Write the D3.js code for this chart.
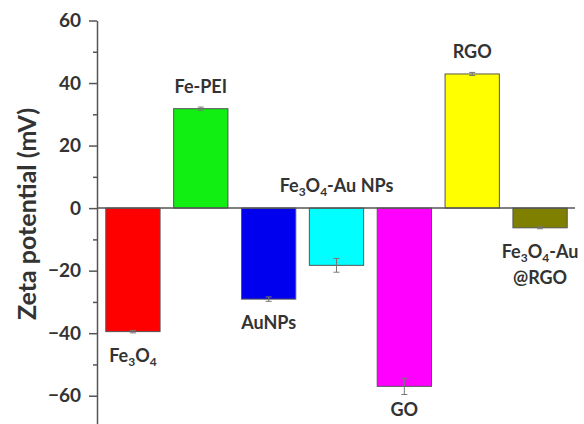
<!DOCTYPE html>
<html>
<head>
<meta charset="utf-8">
<script src="https://cdn.jsdelivr.net/npm/d3@7"></script>
<style>
html,body{margin:0;padding:0;background:#fff;}
svg{display:block;}
text{font-family:Lato,"Open Sans",sans-serif;font-weight:bold;fill:#333;}
</style>
</head>
<body>
<div id="chart"></div>
<script>
const categories = ["Fe3O4","Fe-PEI","AuNPs","Fe3O4-Au NPs","GO","RGO","Fe3O4-Au@RGO"];
const values = [-39.5, 31.8, -29.1, -18.3, -57.0, 42.9, -6.3];
const errors = [0.4, 0.5, 0.7, 2.2, 2.6, 0.5, 0.3];
const colors = ["#ff0000","#11ee11","#0000ee","#00ffff","#ff00ff","#ffff00","#808000"];
const yTicks = [-60,-40,-20,0,20,40,60];
const yMinorTicks = [-50,-30,-10,10,30,50];
const yTitle = "Zeta potential (mV)";

const W = 584, H = 424;
const svg = d3.select("#chart").append("svg").attr("width", W).attr("height", H);

const axisX = 97;
const y = d3.scaleLinear().domain([-70, 60]).range([427, 20.5]);
const x = d3.scaleBand().domain(categories).range([99, 574]).paddingInner(0.2).paddingOuter(0.1);

// bars
svg.selectAll("rect.bar").data(categories).enter().append("rect")
  .attr("class","bar")
  .attr("x", d => x(d))
  .attr("width", x.bandwidth())
  .attr("y", (d,i) => y(Math.max(0, values[i])))
  .attr("height", (d,i) => Math.abs(y(values[i]) - y(0)))
  .attr("fill", (d,i) => colors[i])
  .attr("stroke", "#555")
  .attr("stroke-width", 1);

// error bars
const eg = svg.append("g").attr("stroke","#777").attr("stroke-width",1);
categories.forEach((c,i) => {
  const cx = x(c) + x.bandwidth()/2;
  const v = values[i], e = errors[i];
  eg.append("line").attr("x1",cx).attr("x2",cx).attr("y1",y(v-e)).attr("y2",y(v+e));
  eg.append("line").attr("x1",cx-3).attr("x2",cx+3).attr("y1",y(v-e)).attr("y2",y(v-e));
  eg.append("line").attr("x1",cx-3).attr("x2",cx+3).attr("y1",y(v+e)).attr("y2",y(v+e));
});

// zero line
svg.append("line").attr("x1", axisX).attr("x2", 575).attr("y1", y(0)).attr("y2", y(0))
  .attr("stroke","#555").attr("stroke-width",1.5);

// y axis
const yAxis = d3.axisLeft(y).tickValues(yTicks).tickSize(8).tickSizeOuter(0).tickPadding(8);
const ga = svg.append("g").attr("transform", `translate(${axisX},0)`).call(yAxis);
ga.select(".domain").attr("stroke","#555").attr("stroke-width",1.5);
ga.selectAll(".tick line").attr("stroke","#555").attr("stroke-width",1.5);
ga.selectAll(".tick text").attr("fill","#333").style("font-size","19px").style("font-family","Lato,sans-serif").style("font-weight","bold");
const gm = svg.append("g").attr("transform", `translate(${axisX},0)`)
  .call(d3.axisLeft(y).tickValues(yMinorTicks).tickSize(4).tickFormat(""));
gm.select(".domain").remove();
gm.selectAll(".tick line").attr("stroke","#555").attr("stroke-width",1.5);

// y title
svg.append("text").attr("transform", `translate(36,${214}) rotate(-90)`)
  .attr("text-anchor","middle").style("font-size","25px").text(yTitle);

// category labels with subscripts
function addLabel(lines, cx, baseline) {
  lines.forEach((line, li) => {
    const t = svg.append("text").attr("x", cx).attr("y", baseline + li*26)
      .attr("text-anchor","middle").style("font-size","18px");
    const parts = line.match(/[0-9]+|[^0-9]+/g);
    let shifted = false;
    parts.forEach(p => {
      if (/^[0-9]+$/.test(p)) {
        t.append("tspan").attr("dy", 4).style("font-size","12px").text(p);
        shifted = true;
      } else {
        t.append("tspan").attr("dy", shifted ? -4 : 0).text(p);
        shifted = false;
      }
    });
  });
}
categories.forEach((c,i) => {
  const cx = x(c) + x.bandwidth()/2;
  const v = values[i];
  const lines = c.includes("@") ? [c.slice(0, c.indexOf("@")), c.slice(c.indexOf("@"))] : [c];
  let baseline;
  if (v > 0) baseline = y(v) - 16;
  else if (c === "Fe3O4-Au NPs") baseline = y(0) - 16;
  else baseline = y(v) + 30;
  addLabel(lines, cx, baseline);
});
</script>
</body>
</html>
